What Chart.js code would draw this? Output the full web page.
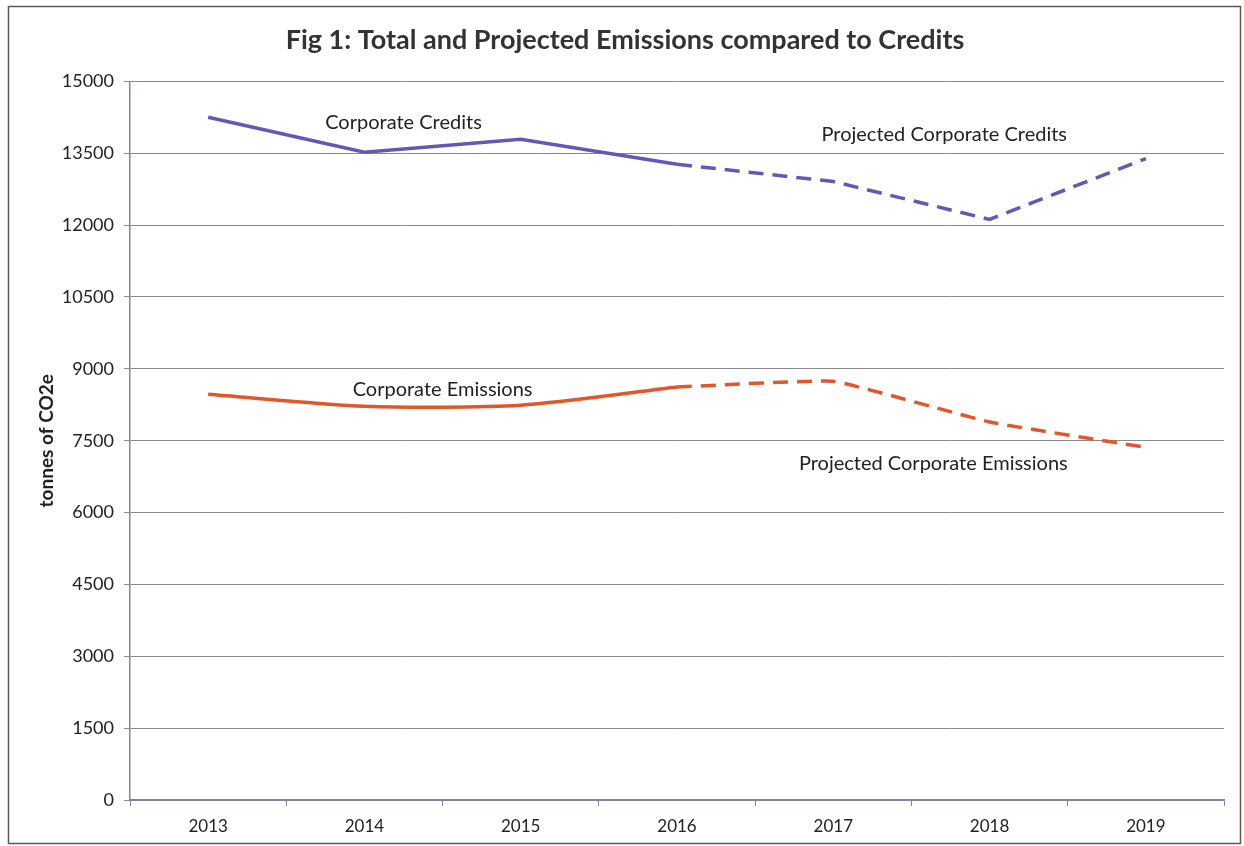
<!DOCTYPE html>
<html lang="en">
<head>
    <meta charset="UTF-8">
    <title>Fig 1: Total and Projected Emissions compared to Credits</title>
    <style>
        body {
            margin: 0;
            background-color: #ffffff;
            overflow: hidden;
        }

        .chart-container {
            position: absolute;
            top: 0;
            left: 0;
            width: 1244px;
            height: 846px;
        }
    </style>
</head>
<body>

<div class="chart-container">
    <canvas id="myChart"></canvas>
</div>

<script src="https://cdn.jsdelivr.net/npm/chart.js"></script>
<script>
    // Daten
    const years = ['2013', '2014', '2015', '2016', '2017', '2018', '2019'];
    const credits = [14250, 13520, 13790, 13270, null, null, null];
    const projectedCredits = [null, null, null, 13270, 12910, 12120, 13390];
    const emissions = [8470, 8220, 8240, 8620, null, null, null];
    const projectedEmissions = [null, null, null, 8620, 8740, 7890, 7360];
    const yTicks = [0, 1500, 3000, 4500, 6000, 7500, 9000, 10500, 12000, 13500, 15000];

    // Beschriftungen im Diagramm (x = Kategorie-Index, y = Wert)
    const seriesLabels = [
        { text: 'Corporate Credits', x: 1.25, y: 14150 },
        { text: 'Projected Corporate Credits', x: 4.71, y: 13890 },
        { text: 'Corporate Emissions', x: 1.5, y: 8575 },
        { text: 'Projected Corporate Emissions', x: 4.64, y: 7030 }
    ];

    const purple = '#6656b6';
    const orange = '#e2572a';
    const font = 'Lato, "Open Sans", sans-serif';

    const labelPlugin = {
        id: 'seriesLabels',
        beforeDraw(chart) {
            const c = chart.ctx;
            c.save();
            c.strokeStyle = '#5a5a5a';
            c.lineWidth = 1.5;
            c.strokeRect(8.5, 6.5, 1232, 837);
            c.restore();
        },
        afterDatasetsDraw(chart) {
            const c = chart.ctx;
            const xs = chart.scales.x;
            const ys = chart.scales.y;
            c.save();
            c.font = '20px ' + font;
            c.fillStyle = '#222';
            c.textAlign = 'center';
            c.textBaseline = 'middle';
            seriesLabels.forEach(l => {
                c.fillText(l.text, xs.getPixelForValue(l.x), ys.getPixelForValue(l.y));
            });
            c.restore();
        }
    };

    const lineDs = (label, data, color, dashed, tension) => ({
        label: label,
        data: data,
        borderColor: color,
        backgroundColor: color,
        borderWidth: 3.5,
        borderDash: dashed ? [15, 9] : [],
        pointRadius: 0,
        tension: tension,
        spanGaps: false,
        fill: false
    });

    const ctx = document.getElementById('myChart').getContext('2d');

    const myChart = new Chart(ctx, {
        type: 'line',
        data: {
            labels: years,
            datasets: [
                lineDs('Corporate Credits', credits, purple, false, 0),
                lineDs('Projected Corporate Credits', projectedCredits, purple, true, 0),
                lineDs('Corporate Emissions', emissions, orange, false, 0.25),
                lineDs('Projected Corporate Emissions', projectedEmissions, orange, true, 0.1)
            ]
        },
        options: {
            responsive: true,
            maintainAspectRatio: false,
            animation: false,
            layout: {
                padding: { left: 26, right: 20, top: 0, bottom: 0 }
            },
            plugins: {
                legend: { display: false },
                tooltip: { enabled: false },
                title: {
                    display: true,
                    text: 'Fig 1: Total and Projected Emissions compared to Credits',
                    color: '#333',
                    font: { family: font, size: 27, weight: 'bold' },
                    padding: { top: 24, bottom: 25 }
                }
            },
            scales: {
                x: {
                    offset: true,
                    grid: {
                        display: true,
                        offset: true,
                        drawOnChartArea: false,
                        drawTicks: true,
                        tickLength: 6,
                        color: '#7c82ad'
                    },
                    border: { color: '#7c82ad', width: 1.5 },
                    ticks: {
                        color: '#222',
                        padding: 10,
                        font: { family: font, size: 17 }
                    },
                    afterFit(scale) { scale.height = 46; }
                },
                y: {
                    min: 0,
                    max: 15000,
                    afterBuildTicks(scale) {
                        scale.ticks = yTicks.map(v => ({ value: v }));
                    },
                    grid: {
                        color: '#8a8a8a',
                        lineWidth: 1,
                        tickLength: 6
                    },
                    border: { color: '#7c82ad', width: 1.5 },
                    ticks: {
                        color: '#222',
                        padding: 10,
                        font: { family: font, size: 18 },
                        callback: v => String(v)
                    },
                    title: {
                        display: true,
                        text: 'tonnes of CO2e',
                        color: '#222',
                        font: { family: font, size: 19, weight: 'bold' },
                        padding: { top: 9, bottom: 0 }
                    },
                    afterFit(scale) { scale.width = 104; }
                }
            }
        },
        plugins: [labelPlugin]
    });
</script>

</body>
</html>
